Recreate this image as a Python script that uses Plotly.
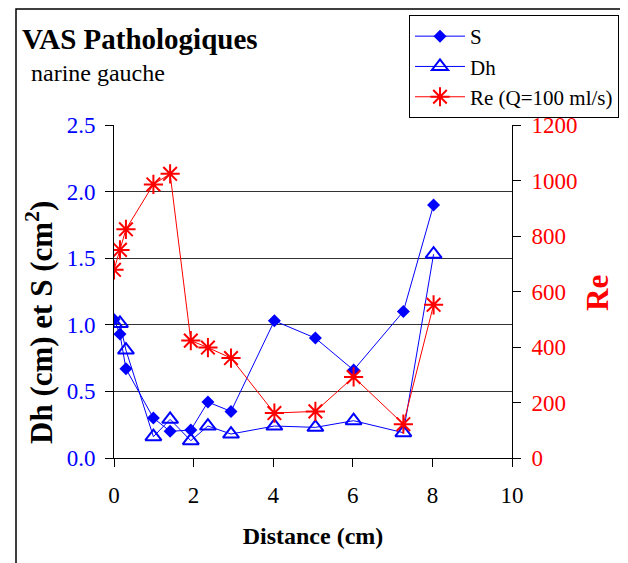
import plotly.graph_objects as go

# Data
distance = [0.0, 0.15, 0.30, 0.99, 1.41, 1.93, 2.36, 2.94, 4.03, 5.06, 6.02, 7.27, 8.03]
S_values = [1.04, 0.93, 0.67, 0.30, 0.20, 0.21, 0.42, 0.35, 1.03, 0.90, 0.66, 1.10, 1.90]
Dh_values = [1.01, 1.01, 0.81, 0.16, 0.29, 0.13, 0.24, 0.18, 0.24, 0.23, 0.28, 0.19, 1.53]
Re_values = [678, 750, 824, 986, 1024, 423, 398, 360, 162, 168, 292, 122, 552]

x_ticks = [0, 2, 4, 6, 8, 10]
left_ticks = [0.0, 0.5, 1.0, 1.5, 2.0, 2.5]
right_ticks = [0, 200, 400, 600, 800, 1000, 1200]

FONT = "Liberation Serif"
BLUE = "#0000FF"
RED = "#FF0000"

fig = go.Figure()
fig.add_trace(go.Scatter(
    x=distance, y=S_values, name="S", mode="lines+markers",
    line=dict(color=BLUE, width=1),
    marker=dict(symbol="diamond", size=10, color=BLUE),
))
fig.add_trace(go.Scatter(
    x=distance, y=Dh_values, name="Dh", mode="lines+markers",
    line=dict(color=BLUE, width=1),
    marker=dict(symbol="triangle-up-open", size=14, color=BLUE, line=dict(width=2, color=BLUE)),
))
fig.add_trace(go.Scatter(
    x=distance, y=Re_values, name="Re (Q=100 ml/s)", mode="lines+markers", yaxis="y2",
    line=dict(color=RED, width=1),
    marker=dict(symbol="asterisk-open", size=16, color=RED, line=dict(width=2, color=RED)),
))

# page body margin of 8px offsets the figure; positions below are in screen pixels
OFF = 8
W, H = 628, 563
L, T = 114 - OFF, 125 - OFF
pw, ph = 398, 333
R = W - L - pw
B = H - T - ph

def px_x(p):
    return (p - OFF - L) / pw

def px_y(p):
    return (T + ph - (p - OFF)) / ph

fig.update_layout(
    width=W, height=H,
    margin=dict(l=L, r=R, t=T, b=B, autoexpand=False),
    paper_bgcolor="white", plot_bgcolor="white",
    font=dict(family=FONT, color="black"),
    showlegend=True,
    legend=dict(
        x=px_x(409), y=px_y(15), xanchor="left", yanchor="top",
        bordercolor="black", borderwidth=1, bgcolor="white",
        font=dict(family=FONT, size=21, color="black"),
        itemwidth=50, tracegroupgap=0,
    ),
    xaxis=dict(
        range=[0, 10], tickvals=x_ticks, ticktext=[str(v) for v in x_ticks],
        ticks="outside", ticklen=8, tickcolor="black",
        showline=True, linecolor="black", linewidth=1,
        showgrid=False, zeroline=False, ticklabelstandoff=8,
        tickfont=dict(family=FONT, size=23, color="black"),
        title=dict(text="<b>Distance (cm)</b>", font=dict(family=FONT, size=24, color="black"), standoff=20),
    ),
    yaxis=dict(
        range=[0, 2.5], tickvals=left_ticks, tickformat=".1f",
        ticks="outside", ticklen=8, tickcolor="black",
        showline=True, linecolor="black", linewidth=1, ticklabelstandoff=5,
        showgrid=True, gridcolor="#333333", gridwidth=1, zeroline=False,
        tickfont=dict(family=FONT, size=23, color=BLUE),
    ),
    yaxis2=dict(
        range=[0, 1200], tickvals=right_ticks, overlaying="y", side="right",
        ticks="outside", ticklen=8, tickcolor="black",
        showline=True, linecolor="black", linewidth=1, ticklabelstandoff=6,
        showgrid=False, zeroline=False,
        tickfont=dict(family=FONT, size=23, color=RED),
    ),
    yaxis3=dict(
        range=[0, 1200], tickvals=right_ticks, overlaying="y", side="right",
        ticks="inside", ticklen=8, tickcolor="black",
        showline=False, showgrid=False, zeroline=False, showticklabels=False,
    ),
)

fig.add_annotation(
    text="<b>VAS Pathologiques</b>", xref="paper", yref="paper",
    x=px_x(20), y=px_y(39), xanchor="left", yanchor="middle", showarrow=False,
    font=dict(family=FONT, size=29, color="black"),
)
fig.add_annotation(
    text="narine gauche", xref="paper", yref="paper",
    x=px_x(29), y=px_y(73), xanchor="left", yanchor="middle", showarrow=False,
    font=dict(family=FONT, size=24, color="black"),
)
fig.add_annotation(
    text="<b>Dh (cm) et S (cm<sup>2</sup>)</b>", xref="paper", yref="paper",
    x=px_x(39), y=px_y(323), xanchor="center", yanchor="middle", showarrow=False,
    textangle=-90, font=dict(family=FONT, size=31, color="black"),
)
fig.add_annotation(
    text="<b>Re</b>", xref="paper", yref="paper",
    x=px_x(597), y=px_y(293), xanchor="center", yanchor="middle", showarrow=False,
    textangle=-90, font=dict(family=FONT, size=31, color=RED),
)

# outer chart frame
fig.add_shape(
    type="rect", xref="paper", yref="paper",
    x0=px_x(16), x1=px_x(626), y0=px_y(620), y1=px_y(9),
    line=dict(color="black", width=1.5), fillcolor="rgba(0,0,0,0)", layer="below",
)

fig.write_html("out.html")
